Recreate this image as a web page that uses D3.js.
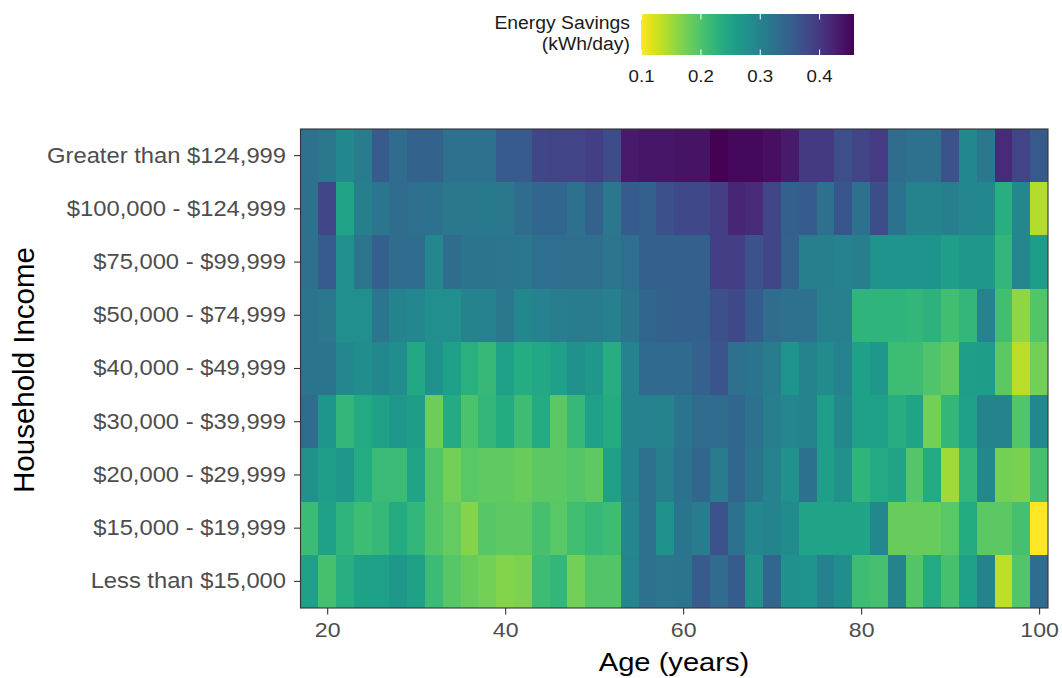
<!DOCTYPE html>
<html>
<head>
<meta charset="utf-8">
<script src="https://cdn.jsdelivr.net/npm/d3@7"></script>
<style>
  html, body { margin: 0; padding: 0; background: #ffffff; }
  svg { display: block; font-family: "Liberation Sans", Arial, sans-serif; }
</style>
</head>
<body>
<svg id="chart" width="1062" height="678"></svg>
<script>
// ---------------- data ----------------
const ages = d3.range(18, 101, 2); // 18, 20, ..., 100 (42 bins of 2 years)

const incomeLevels = [
  "Greater than $124,999",
  "$100,000 - $124,999",
  "$75,000 - $99,999",
  "$50,000 - $74,999",
  "$40,000 - $49,999",
  "$30,000 - $39,999",
  "$20,000 - $29,999",
  "$15,000 - $19,999",
  "Less than $15,000"
];

const savingsOver125k = [0.325,0.315,0.290,0.310,0.357,0.333,0.347,0.347,0.325,0.325,0.325,0.357,0.357,0.383,0.386,0.386,0.393,0.376,0.433,0.437,0.437,0.440,0.440,0.458,0.450,0.450,0.445,0.433,0.397,0.397,0.372,0.386,0.395,0.333,0.326,0.326,0.368,0.290,0.315,0.415,0.386,0.358];
const savings100to125k = [0.325,0.383,0.250,0.305,0.318,0.332,0.328,0.322,0.316,0.315,0.313,0.315,0.333,0.340,0.340,0.325,0.345,0.315,0.355,0.350,0.370,0.380,0.380,0.393,0.420,0.415,0.383,0.350,0.355,0.326,0.362,0.322,0.375,0.322,0.297,0.297,0.305,0.293,0.290,0.232,0.290,0.140];
const savings75to100k = [0.325,0.357,0.280,0.318,0.350,0.332,0.332,0.293,0.332,0.320,0.320,0.318,0.315,0.330,0.330,0.328,0.328,0.318,0.330,0.350,0.350,0.350,0.350,0.393,0.393,0.368,0.383,0.347,0.305,0.305,0.300,0.305,0.272,0.272,0.272,0.272,0.258,0.266,0.266,0.222,0.293,0.260];
const savings50to75k = [0.320,0.316,0.280,0.280,0.318,0.297,0.293,0.280,0.280,0.297,0.300,0.315,0.290,0.300,0.307,0.310,0.310,0.303,0.320,0.340,0.345,0.350,0.350,0.370,0.380,0.355,0.333,0.325,0.325,0.303,0.303,0.225,0.225,0.225,0.222,0.228,0.207,0.222,0.300,0.207,0.160,0.197];
const savings40to50k = [0.320,0.320,0.293,0.282,0.290,0.283,0.243,0.275,0.255,0.230,0.218,0.254,0.237,0.243,0.255,0.278,0.268,0.235,0.300,0.335,0.335,0.335,0.348,0.365,0.328,0.320,0.308,0.272,0.297,0.285,0.300,0.255,0.268,0.212,0.210,0.198,0.186,0.258,0.260,0.190,0.136,0.175];
const savings30to40k = [0.333,0.270,0.222,0.240,0.252,0.268,0.260,0.180,0.238,0.200,0.222,0.238,0.210,0.238,0.190,0.218,0.255,0.238,0.297,0.300,0.297,0.320,0.333,0.333,0.340,0.325,0.305,0.293,0.297,0.258,0.290,0.252,0.252,0.235,0.248,0.175,0.222,0.255,0.298,0.297,0.197,0.290];
const savings20to30k = [0.278,0.258,0.268,0.237,0.215,0.213,0.248,0.197,0.176,0.192,0.186,0.186,0.183,0.190,0.190,0.195,0.188,0.254,0.297,0.325,0.305,0.322,0.340,0.310,0.340,0.320,0.300,0.278,0.322,0.258,0.278,0.225,0.242,0.250,0.195,0.242,0.150,0.222,0.290,0.175,0.171,0.205];
const savings15to20k = [0.213,0.253,0.225,0.212,0.218,0.238,0.222,0.197,0.185,0.165,0.193,0.188,0.188,0.205,0.192,0.208,0.218,0.210,0.292,0.325,0.275,0.320,0.310,0.368,0.322,0.290,0.297,0.285,0.250,0.250,0.250,0.250,0.290,0.183,0.183,0.183,0.192,0.238,0.190,0.190,0.205,0.100];
const savingsUnder15k = [0.253,0.205,0.233,0.254,0.256,0.268,0.254,0.213,0.193,0.183,0.176,0.165,0.170,0.212,0.222,0.176,0.197,0.197,0.295,0.325,0.318,0.320,0.357,0.332,0.355,0.278,0.340,0.275,0.272,0.302,0.282,0.210,0.205,0.297,0.197,0.242,0.205,0.255,0.297,0.135,0.196,0.332];

const xTicks = [20, 40, 60, 80, 100];
const legendTicks = [0.1, 0.2, 0.3, 0.4];
const colorDomain = [0.099, 0.458];

// ---------------- build table ----------------
const rows = [savingsOver125k, savings100to125k, savings75to100k, savings50to75k,
              savings40to50k, savings30to40k, savings20to30k, savings15to20k, savingsUnder15k];
const cells = [];
rows.forEach((vals, i) => {
  vals.forEach((v, j) => cells.push({ income: incomeLevels[i], age: ages[j], value: v }));
});

// ---------------- layout ----------------
const svg = d3.select("#chart");
const panel = { left: 300.5, right: 1048, top: 129, bottom: 608 };
const SX = 1.1; // horizontal text stretch to match reference rendering

const x = d3.scaleLinear().domain([17, 101]).range([panel.left, panel.right]);
const y = d3.scaleBand().domain(incomeLevels).range([panel.top, panel.bottom]).padding(0);
const color = d3.scaleSequential(d3.interpolateViridis).domain([colorDomain[1], colorDomain[0]]);

// tiles
svg.append("g").selectAll("rect").data(cells).join("rect")
  .attr("x", d => x(d.age - 1))
  .attr("y", d => y(d.income))
  .attr("width", d => x(d.age + 1) - x(d.age - 1) + 0.4)
  .attr("height", y.bandwidth() + 0.4)
  .attr("fill", d => color(d.value))
  .attr("shape-rendering", "crispEdges");

// panel border
svg.append("rect")
  .attr("x", panel.left).attr("y", panel.top)
  .attr("width", panel.right - panel.left).attr("height", panel.bottom - panel.top)
  .attr("fill", "none").attr("stroke", "#333333").attr("stroke-width", 1.1);

function stretchTexts(sel) {
  sel.selectAll("text").each(function () {
    const t = d3.select(this);
    const tx = +t.attr("x") || 0;
    t.attr("x", 0).attr("transform", `translate(${tx},0) scale(${SX},1)`);
  });
}

// y axis
const gy = svg.append("g").attr("transform", `translate(${panel.left},0)`)
  .call(d3.axisLeft(y).tickSize(6.5).tickPadding(8));
gy.select(".domain").remove();
gy.selectAll(".tick line").attr("stroke", "#333333").attr("stroke-width", 1.1);
gy.selectAll(".tick text").attr("fill", "#4d4d4d").attr("font-size", 21.6)
  .attr("font-family", "'Liberation Sans', Arial, sans-serif");
stretchTexts(gy);

// x axis
const gx = svg.append("g").attr("transform", `translate(0,${panel.bottom})`)
  .call(d3.axisBottom(x).tickValues(xTicks).tickSize(6.5).tickPadding(8));
gx.select(".domain").remove();
gx.selectAll(".tick line").attr("stroke", "#333333").attr("stroke-width", 1.1);
gx.selectAll(".tick text").attr("fill", "#4d4d4d").attr("font-size", 21)
  .attr("font-family", "'Liberation Sans', Arial, sans-serif");
stretchTexts(gx);

// axis titles
svg.append("text")
  .attr("transform", `translate(674,671) scale(${SX},1)`)
  .attr("text-anchor", "middle").attr("font-size", 26.5).attr("fill", "#000")
  .text("Age (years)");

svg.append("text")
  .attr("transform", "translate(34,370) rotate(-90)")
  .attr("text-anchor", "middle").attr("font-size", 29.5).attr("fill", "#000")
  .text("Household Income");

// ---------------- legend ----------------
const lg = { left: 641, right: 854, top: 14, bottom: 55 };
const lx = d3.scaleLinear().domain(colorDomain).range([lg.left, lg.right]);
const defs = svg.append("defs");
const grad = defs.append("linearGradient").attr("id", "lgGrad")
  .attr("x1", "0%").attr("x2", "100%").attr("y1", "0%").attr("y2", "0%");
d3.range(0, 1.0001, 0.05).forEach(t => {
  const v = colorDomain[0] + t * (colorDomain[1] - colorDomain[0]);
  grad.append("stop").attr("offset", `${t * 100}%`).attr("stop-color", color(v));
});
svg.append("rect")
  .attr("x", lg.left).attr("y", lg.top)
  .attr("width", lg.right - lg.left).attr("height", lg.bottom - lg.top)
  .attr("fill", "url(#lgGrad)");

const tickLen = 5.5;
legendTicks.forEach(v => {
  svg.append("line").attr("x1", lx(v)).attr("x2", lx(v))
    .attr("y1", lg.top).attr("y2", lg.top + tickLen)
    .attr("stroke", "#ffffff").attr("stroke-width", 1);
  svg.append("line").attr("x1", lx(v)).attr("x2", lx(v))
    .attr("y1", lg.bottom - tickLen).attr("y2", lg.bottom)
    .attr("stroke", "#ffffff").attr("stroke-width", 1);
});

svg.append("g").selectAll("text").data(legendTicks).join("text")
  .attr("transform", d => `translate(${lx(d)},82) scale(${SX},1)`)
  .attr("text-anchor", "middle").attr("font-size", 17).attr("fill", "#1a1a1a")
  .text(d => d3.format(".1f")(d));

const titleLines = ["Energy Savings", "(kWh/day)"];
svg.append("g").selectAll("text").data(titleLines).join("text")
  .attr("transform", (d, i) => `translate(630,${29 + i * 20.5}) scale(${SX},1)`)
  .attr("text-anchor", "end").attr("font-size", 17.6).attr("fill", "#1a1a1a")
  .text(d => d);
</script>
</body>
</html>
